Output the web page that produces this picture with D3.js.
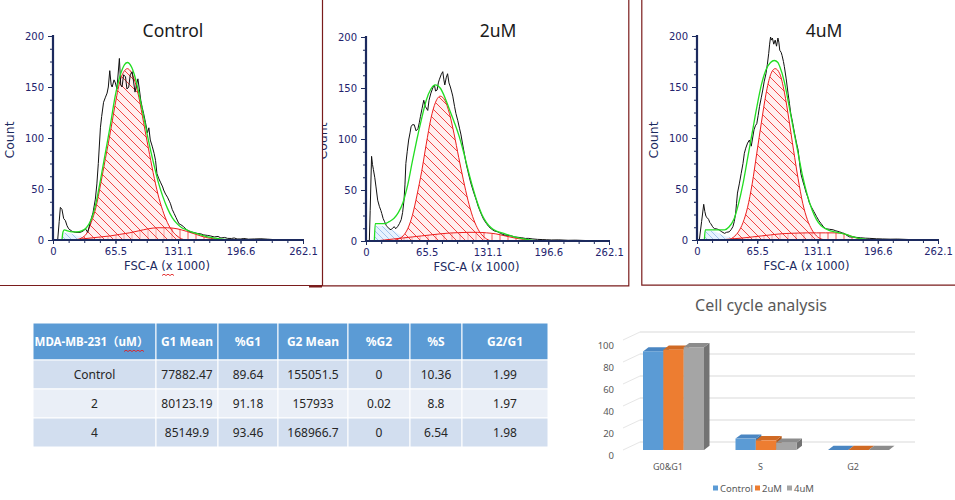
<!DOCTYPE html>
<html><head><meta charset="utf-8">
<script src="https://cdn.jsdelivr.net/npm/d3@7"></script>
<style>body{margin:0;background:#fff;} svg{display:block;}</style>
</head><body><svg id="c" width="955" height="500"></svg>
<script>
// ---------------- DATA ----------------
// x in FSC-A (x1000), y = count
const xTickLabels = ["0","65.5","131.1","196.6","262.1"];
const yTickLabels = ["0","50","100","150","200"];
const panelTitles = ["Control","2uM","4uM"];

const ctrlRaw = [[4.9,0],[6.5,18],[7.7,32],[9.4,30],[11.2,21],[13,19],[14.7,14],[16.4,11],[20,8.5],[23.4,7.5],[28.7,7.5],[32,9],[34,11],[36.4,7.5],[39,17],[42,27],[44.4,40],[46,55],[47.5,75],[49.7,110],[51,121],[53,135],[55,140],[56.7,144],[58,150],[59.5,166],[61,152],[62,150],[64,157],[65.4,154],[67,148],[69.6,178],[71,152],[72.4,150],[74,162],[76,160],[77.5,148],[79.4,150],[81,162],[83,165],[84.5,155],[86,145],[87.5,152],[89,158],[90.5,148],[92,137],[93.5,130],[95,124],[97,115],[99,105],[100.5,110],[102,98],[104,92],[106,85],[107.5,78],[109,65],[111,60],[113,56],[115,52],[116,49],[118,45],[120,42],[122,38],[123,36],[125,30],[127,26],[129,22],[132,16],[134,15],[137,13],[140,10],[144,8],[147,7.5],[151,6.5],[155,6],[158,5],[162,4.5],[165,4],[169,3],[173,3.5],[176,2],[180,2.5],[183,1.6],[187,1.5],[190,2],[193,1],[197,1],[200,1.5],[205,0.8],[211,1],[218,1.2],[225,0.8],[230,0.5],[232,0]];
const ctrlFit = [[9.4,0],[10.5,8],[12,10],[15,9],[20,8],[25,8],[30,9],[35,12],[40,20],[45,36],[50,60],[55,86],[60,112],[65,140],[70,160],[75,172],[78,174],[80,173],[85,163],[90,144],[95,121],[100,98],[105,77],[110,58],[115,43],[120,31],[125,22],[130,16],[135,12],[140,10],[145,8],[150,6.5],[155,5],[160,3.5],[170,1.8],[180,0.6],[190,0]];
const ctrlG1 = [[25,0],[30,2],[35,6],[40,17],[45,32],[50,55],[55,80],[60,105],[65,132],[70,155],[75,166],[78,168],[80,167],[85,158],[90,140],[95,115],[100,90],[105,66],[110,45],[115,29],[120,17],[125,9],[130,4],[135,1],[140,0]];
const ctrlS = [[18,0],[30,1],[40,2],[50,3],[60,4],[70,5.5],[80,7],[90,9],[100,11],[110,12],[120,12],[130,11],[140,8.5],[150,5.5],[160,2.5],[170,1],[180,0]];
const ctrlDebris = [[9.4,0],[10.5,7],[15,7],[20,6],[25,4.5],[30,3],[35,1.5],[40,0.5],[45,0]];

const uM2Raw = [[3.6,0],[4.5,30],[6,83],[7,75],[8,70],[9.5,62],[10.8,53],[12.6,40],[14.4,34],[16,30],[17,27],[18.5,22],[20,19],[22,15],[23,14],[25,12],[27,11],[29,13],[30.6,14],[32,12],[34,14],[36,17],[38,21],[39.5,28],[41,40],[42,55],[43,76],[44.5,88],[46,99],[47.5,106],[48.6,112],[50,114],[52,114],[54,108],[56,110],[57.5,116],[58.7,122],[60.5,130],[62.3,138],[64,132],[66.6,128],[68,138],[70,145],[72,150],[73.8,153],[75,147],[76.7,148],[78,155],[79,158],[81,163],[82.8,166],[84,158],[85,153],[86.5,160],[88,164],[89.5,155],[91,151],[92.5,146],[93.6,142],[95.5,132],[97,125],[99,118],[101,110],[102.5,104],[104,96],[106,86],[108,76],[110,68],[113,57],[116,48],[119,40],[121,34],[124,27],[127,21],[130,17],[132.5,14],[135,12],[138,10],[142,9],[145,7.5],[149,6],[153,5.5],[157,5],[160,4],[164,3.6],[168,3.2],[172,2.5],[175,2.6],[180,2],[185,1.6],[190,1.4],[195,1.2],[200,1],[208,1.1],[218,0.7],[226,0.8],[236,0.5],[240,0]];
const uM2Fit = [[9,0],[10,17],[15,17],[20,17],[25,19],[30,22],[35,28],[40,38],[45,55],[50,78],[55,100],[60,120],[65,138],[70,149],[75,153],[80,150],[85,141],[90,129],[95,117],[100,104],[105,88],[110,70],[115,53],[120,38],[125,26],[130,18],[135,13],[140,10],[150,7],[160,4],[170,2],[180,0.7],[190,0]];
const uM2G1 = [[30,0],[35,2],[40,5],[45,12],[50,25],[55,45],[60,68],[65,95],[70,120],[75,136],[80,142],[85,138],[90,125],[95,105],[100,82],[105,60],[110,40],[115,24],[120,13],[125,6],[130,2],[135,0]];
const uM2S = [[10,0],[20,1],[30,2],[40,3],[50,4],[60,5],[70,6],[80,7],[90,7.8],[100,8.2],[110,8.5],[120,8.5],[130,8],[140,7],[150,5],[160,3],[170,1.5],[180,0.3],[185,0]];
const uM2Debris = [[9,0],[10,15],[15,15],[20,14],[25,12],[30,10],[35,7],[40,5],[45,3],[50,1],[55,0]];

const uM4Raw = [[2.5,0],[5,18],[7.3,35],[8.5,28],[9.8,23],[11,22],[12.7,20],[14,17],[15,16],[17,13],[19,11],[21,11],[24,10],[27,8],[30,6.5],[32,7.5],[35,8],[37,10],[39,13],[40.5,18],[42,26],[43,36],[44,46],[46,55],[48,65],[50,75],[51.5,85],[53,90],[55,95],[57,98],[59,92],[60.5,100],[62,108],[63.5,112],[65,114],[66.5,122],[68,131],[70,140],[71.5,147],[73,155],[75,163],[76.5,172],[78,183],[79,192],[80,199],[81,196],[82,198],[83.5,192],[85,196],[86.5,190],[88,198],[89,194],[90,186],[91.5,184],[92.5,181],[94,175],[95,170],[97,158],[99,144],[100.5,134],[102,124],[104,115],[106,105],[108,96],[110,88],[111.5,76],[113,65],[115,58],[117,52],[118.5,47],[120.5,42],[122,37],[124,33],[127,28],[130,23],[132.5,19],[135,16],[137.5,13],[140,11],[144,10.5],[148,10],[151,9],[155,8],[158,7],[160,6.5],[163,4.5],[166,3],[170,3],[173,2.6],[178,2.2],[183,1.8],[188,1.6],[195,1.2],[202,1],[210,0.8],[218,0.9],[224,0.7],[232,0.4],[235,0]];
const uM4Fit = [[8,0],[9,10],[15,10],[20,10],[25,10],[30,10],[35,13],[40,20],[45,35],[50,55],[55,80],[60,105],[65,130],[70,152],[75,167],[80,174],[84,176],[88,174],[90,170],[95,155],[100,132],[105,108],[110,85],[115,62],[120,44],[125,30],[130,20],[135,14],[140,11],[145,9],[150,8],[155,7],[160,6],[170,3],[180,1],[190,0]];
const uM4G1 = [[35,0],[40,3],[45,8],[50,17],[55,32],[60,55],[65,85],[70,115],[75,143],[80,162],[85,168],[90,163],[95,145],[100,118],[105,88],[110,60],[115,36],[120,20],[125,10],[130,4],[135,1],[140,0]];
const uM4S = [[25,0],[30,0.5],[40,1.2],[50,2],[60,3],[70,4],[80,5],[90,6],[100,6.5],[110,6.8],[120,7],[130,7],[140,7],[150,7],[160,6],[170,3],[180,0.5],[185,0]];
const uM4Debris = [[8,0],[9,9],[15,9],[20,8],[25,6],[30,4],[35,3],[40,1.5],[45,0]];

// Table
const tableHeader = ["MDA-MB-231（uM）","G1 Mean","%G1","G2 Mean","%G2","%S","G2/G1"];
const tableRows = [
  ["Control","77882.47","89.64","155051.5","0","10.36","1.99"],
  ["2","80123.19","91.18","157933","0.02","8.8","1.97"],
  ["4","85149.9","93.46","168966.7","0","6.54","1.98"]
];

// Bar chart
const barTitle = "Cell cycle analysis";
const barCategories = ["G0&G1","S","G2"];
const barSeries = ["Control","2uM","4uM"];
const ctrlBars = [89.64,10.36,0];
const uM2Bars = [91.18,8.8,0.02];
const uM4Bars = [93.46,6.54,0];
const barTicks = [0,20,40,60,80,100];

// ---------------- DRAW ----------------
const svg = d3.select("#c");
const defs = svg.append("defs");
svg.append("rect").attr("width",955).attr("height",500).attr("fill","#fff");

function hatch(id,bg,color,kind,s,sw){
  const p = defs.append("pattern").attr("id",id).attr("patternUnits","userSpaceOnUse").attr("width",s).attr("height",s);
  p.append("rect").attr("width",s).attr("height",s).attr("fill",bg);
  let d;
  if(kind==="back") d=`M0,0L${s},${s}M${-1},${s-1}L1,${s+1}M${s-1},-1L${s+1},1`;
  else if(kind==="fwd") d=`M0,${s}L${s},0M-1,1L1,-1M${s-1},${s+1}L${s+1},${s-1}`;
  else d=`M${s/2},0V${s}`;
  p.append("path").attr("d",d).attr("stroke",color).attr("stroke-width",sw).attr("fill","none");
}
hatch("hG1","rgba(255,225,225,0.55)","#f03030","back",9,0.9);
hatch("hS","rgba(255,235,235,0.4)","#f03030","vert",8,0.8);
hatch("hD","rgba(215,235,255,0.6)","#8fb8e8","back",6,0.8);

const panels = [
  {title:panelTitles[0],raw:ctrlRaw,fit:ctrlFit,g1:ctrlG1,s:ctrlS,deb:ctrlDebris,x0:53,x1:303,yb:240,yt:36,clip:[0,322],tx:173},
  {title:panelTitles[1],raw:uM2Raw,fit:uM2Fit,g1:uM2G1,s:uM2S,deb:uM2Debris,x0:366,x1:609,yb:241,yt:37,clip:[323,628],tx:498},
  {title:panelTitles[2],raw:uM4Raw,fit:uM4Fit,g1:uM4G1,s:uM4S,deb:uM4Debris,x0:697,x1:938,yb:240,yt:36,clip:[642,955],tx:824}
];
const navy="#1c2a5e", tickTxt="#23236e";
const xTickVals = xTickLabels.map(Number);
const yTickVals = yTickLabels.map(Number);
const xMinor = d3.range(0,262.2,262.1/16);
const yMinor = d3.range(0,200.1,12.5);

panels.forEach((p,i)=>{
  defs.append("clipPath").attr("id","pc"+i).append("rect").attr("x",p.clip[0]).attr("y",0).attr("width",p.clip[1]-p.clip[0]).attr("height",285);
  defs.append("clipPath").attr("id","pp"+i).append("rect").attr("x",p.x0).attr("y",p.yt-15).attr("width",p.x1-p.x0).attr("height",p.yb-p.yt+15);
  const g = svg.append("g").attr("clip-path",`url(#pc${i})`);
  const x = d3.scaleLinear().domain([0,262.1]).range([p.x0,p.x1]);
  const y = d3.scaleLinear().domain([0,200]).range([p.yb,p.yt]);
  const area = d3.area().x(d=>x(d[0])).y0(y(0)).y1(d=>y(d[1])).curve(d3.curveMonotoneX);
  const sline = d3.line().x(d=>x(d[0])).y(d=>y(d[1])).curve(d3.curveMonotoneX);
  const rline = d3.line().x(d=>x(d[0])).y(d=>y(d[1]));
  const plot = g.append("g").attr("clip-path",`url(#pp${i})`);
  plot.append("path").datum(p.deb).attr("d",area).attr("fill","url(#hD)");
  plot.append("path").datum(p.s).attr("d",area).attr("fill","url(#hS)");
  plot.append("path").datum(p.g1).attr("d",area).attr("fill","url(#hG1)");
  plot.append("path").datum(p.s).attr("d",sline).attr("fill","none").attr("stroke","#ee1c1c").attr("stroke-width",1);
  plot.append("path").datum(p.g1).attr("d",sline).attr("fill","none").attr("stroke","#ee1c1c").attr("stroke-width",1);
  plot.append("path").datum(p.raw).attr("d",rline).attr("fill","none").attr("stroke","#111").attr("stroke-width",1);
  plot.append("path").datum(p.fit).attr("d",sline).attr("fill","none").attr("stroke","#22dd22").attr("stroke-width",1.3);

  // axes
  const ax = g.append("g").attr("transform",`translate(0,${p.yb})`)
    .call(d3.axisBottom(x).tickValues(xTickVals).tickFormat((d,k)=>xTickLabels[k]).tickSize(4).tickPadding(4));
  const axm = g.append("g").attr("transform",`translate(0,${p.yb})`)
    .call(d3.axisBottom(x).tickValues(xMinor).tickFormat("").tickSize(3));
  const ay = g.append("g").attr("transform",`translate(${p.x0},0)`)
    .call(d3.axisLeft(y).tickValues(yTickVals).tickFormat((d,k)=>yTickLabels[k]).tickSize(5).tickPadding(4));
  const aym = g.append("g").attr("transform",`translate(${p.x0},0)`)
    .call(d3.axisLeft(y).tickValues(yMinor).tickFormat("").tickSize(3));
  [ax,axm,ay,aym].forEach(a=>{a.select(".domain").remove();a.selectAll("line").attr("stroke",navy).attr("stroke-width",1);
    a.selectAll("text").attr("fill",tickTxt).style("font-family","DejaVu Sans, Verdana, sans-serif").style("font-size","10px");});
  g.append("path").attr("d",`M${p.x0},${p.yt-1}V${p.yb}H${p.x1+1}`).attr("fill","none").attr("stroke",navy).attr("stroke-width",2.2);
  g.append("text").attr("x",p.tx).attr("y",37).attr("text-anchor","middle").attr("fill","#1a1a1a")
    .style("font-family","Noto Sans, sans-serif").style("font-size","17.5px").text(p.title);
  g.append("text").attr("x",(p.x0+p.x1)/2-11).attr("y",p.yb+30).attr("text-anchor","middle").attr("fill",navy)
    .style("font-family","DejaVu Sans, Verdana, sans-serif").style("font-size","11.5px").text("FSC-A (x 1000)");
  g.append("text").attr("transform",`translate(${p.x0-39},${(p.yb+p.yt)/2+2}) rotate(-90)`).attr("text-anchor","middle").attr("fill",navy)
    .style("font-family","DejaVu Sans, Verdana, sans-serif").style("font-size","12.5px").text("Count");
});

function wavy(x0,x1,yy){
  let d=`M${x0},${yy}`; let up=true;
  for(let xx=x0+2;xx<=x1;xx+=2){d+=`L${xx},${yy+(up?-1.3:0)}`;up=!up;}
  svg.append("path").attr("d",d).attr("fill","none").attr("stroke","#e02020").attr("stroke-width",0.9);
}
wavy(162,175,275.5);

// panel borders
const bc="#7a1c1c";
svg.append("path").attr("d","M0,285.5H322").attr("stroke",bc).attr("stroke-width",1.2);
svg.append("rect").attr("x",309).attr("y",285).attr("width",13).attr("height",2.5).attr("fill",bc);
svg.append("path").attr("d","M322.5,0V285.8H628.8V0").attr("fill","none").attr("stroke",bc).attr("stroke-width",1.2);
svg.append("path").attr("d","M641.8,0V285.2H955").attr("fill","none").attr("stroke",bc).attr("stroke-width",1.2);

// ---------------- TABLE ----------------
const colEdges=[33,156,218,278,348,410,462,548];
const rowEdges=[323,360,389,418,447];
const tg=svg.append("g").style("font-family","Noto Sans, Noto Sans CJK KR, sans-serif").style("font-size","12px");
const rowFills=["#5B9BD5","#D2DEEF","#EAEFF7","#D2DEEF"];
const allRows=[tableHeader].concat(tableRows);
allRows.forEach((r,ri)=>{
  r.forEach((c,ci)=>{
    tg.append("rect").attr("x",colEdges[ci]).attr("y",rowEdges[ri]).attr("width",colEdges[ci+1]-colEdges[ci]).attr("height",rowEdges[ri+1]-rowEdges[ri])
      .attr("fill",rowFills[ri]).attr("stroke","#fff").attr("stroke-width",1);
    tg.append("text").attr("x",(colEdges[ci]+colEdges[ci+1])/2 - (ri===0&&ci===0?3:0)).attr("y",(rowEdges[ri]+rowEdges[ri+1])/2+4.2)
      .attr("text-anchor","middle").attr("fill",ri===0?"#fff":"#262626").style("font-weight",ri===0?"bold":"normal")
      .style("font-size",ri===0&&ci===0?"11.5px":"12px").text(c);
  });
});
wavy(124,145,351.5);

// ---------------- BAR CHART ----------------
const bg=svg.append("g");
const yBar=d3.scaleLinear().domain([0,100]).range([450,340]);
const xCat=d3.scalePoint().domain(barCategories).range([673.5,858.5]);
const xSer=d3.scaleBand().domain(barSeries).range([-30.5,30.5]);
const dx=5.5, dy=-4.2, depthX=17, depthY=-8;
const fronts=["#5B9BD5","#ED7D31","#A5A5A5"], tops=["#4A86C2","#D06A24","#8C8C8C"], sides=["#3F72A3","#B35A1C","#737373"];
bg.append("text").attr("x",761).attr("y",311).attr("text-anchor","middle").attr("fill","#595959")
  .style("font-family","Noto Sans, sans-serif").style("font-size","16px").text(barTitle);
barTicks.forEach(t=>{
  bg.append("line").attr("x1",623).attr("y1",yBar(t)).attr("x2",623+depthX).attr("y2",yBar(t)+depthY).attr("stroke","#e6e6e6").attr("stroke-width",1);
  bg.append("line").attr("x1",623+depthX).attr("y1",yBar(t)+depthY).attr("x2",915).attr("y2",yBar(t)+depthY).attr("stroke","#d9d9d9").attr("stroke-width",1);
  bg.append("text").attr("x",614).attr("y",yBar(t)+5+3.5).attr("text-anchor","end").attr("fill","#595959")
    .style("font-family","Noto Sans, sans-serif").style("font-size","9.5px").text(t);
});
const seriesVals=[ctrlBars,uM2Bars,uM4Bars];
barCategories.forEach((c,ci)=>{
  barSeries.forEach((s,si)=>{
    const v=seriesVals[si][ci];
    const x=xCat(c)+xSer(s), w=xSer.bandwidth(), top=yBar(v), bot=yBar(0);
    if(bot-top>0.5){
      bg.append("path").attr("d",`M${x+w},${top}L${x+w+dx},${top+dy}L${x+w+dx},${bot+dy}L${x+w},${bot}Z`).attr("fill",sides[si]);
    }
    bg.append("path").attr("d",`M${x},${top}L${x+dx},${top+dy}L${x+w+dx},${top+dy}L${x+w},${top}Z`).attr("fill",tops[si]);
    if(bot-top>0.5) bg.append("rect").attr("x",x).attr("y",top).attr("width",w).attr("height",bot-top).attr("fill",fronts[si]);
  });
  bg.append("text").attr("x",xCat(c)-5.5).attr("y",470).attr("text-anchor","middle").attr("fill","#595959")
    .style("font-family","Noto Sans, sans-serif").style("font-size","9px").text(c);
});
// legend
const legX=[713,755,787];
barSeries.forEach((s,si)=>{
  bg.append("rect").attr("x",legX[si]).attr("y",485.5).attr("width",5).attr("height",5).attr("fill",fronts[si]);
  bg.append("text").attr("x",legX[si]+7).attr("y",491.5).attr("fill","#595959")
    .style("font-family","Noto Sans, sans-serif").style("font-size","9.5px").text(s);
});
</script></body></html>
